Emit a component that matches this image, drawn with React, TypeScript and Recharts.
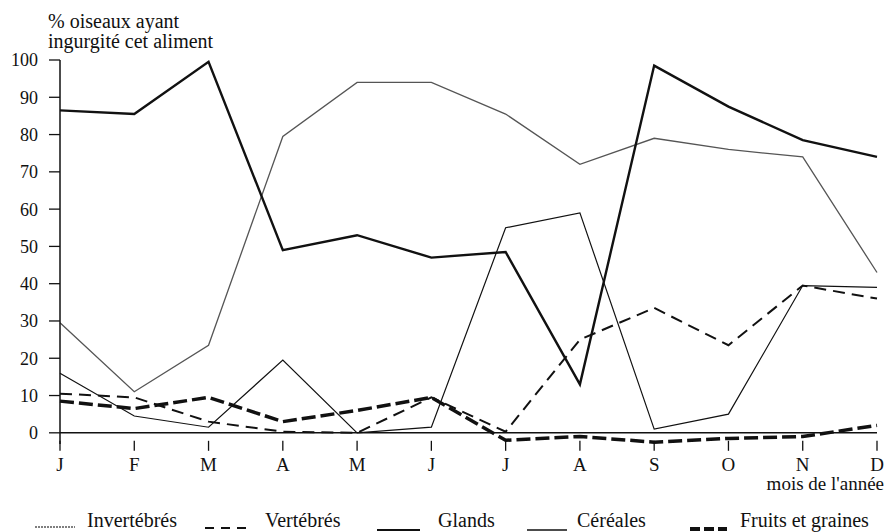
import React from 'react';
import { LineChart, Line, XAxis, YAxis, ReferenceLine, Legend, Label } from 'recharts';

// months of the year (French initials)
const months = ['J', 'F', 'M', 'A', 'M', 'J', 'J', 'A', 'S', 'O', 'N', 'D'];

// % of birds having eaten each food
const invertebres = [29.5, 11, 23.5, 79.5, 94, 94, 85.5, 72, 79, 76, 74, 43];
const vertebres = [10.5, 9.5, 3, 0.3, 0, 9.5, 0.3, 25, 33.5, 23.5, 39.5, 36];
const glands = [86.5, 85.5, 99.5, 49, 53, 47, 48.5, 13, 98.5, 87.5, 78.5, 74];
const cereales = [16, 4.5, 1.5, 19.5, 0, 1.5, 55, 59, 1, 5, 39.5, 39];
const fruits = [8.5, 6.5, 9.5, 3, 6, 9.5, -2, -1, -2.5, -1.5, -1, 2];

const yTicks = [0, 10, 20, 30, 40, 50, 60, 70, 80, 90, 100];

const data = months.map((month, i) => ({
  month,
  invertebres: invertebres[i],
  vertebres: vertebres[i],
  glands: glands[i],
  cereales: cereales[i],
  fruits: fruits[i]
}));

// named serif families did not resolve in the renderer, the generic one does
const FONT = 'serif';
const INK = '#111';

const W = 894;
const H = 532;
const PLOT_TOP = 60;
const PLOT_BOTTOM = 444;
const Y_MIN = -3;
const Y_MAX = 100;
// distance between the plot bottom and the 0 line, where the x axis is drawn
const ZERO_LIFT = ((PLOT_BOTTOM - PLOT_TOP) * (0 - Y_MIN)) / (Y_MAX - Y_MIN);

const SERIES = [
  { key: 'invertebres', name: 'Invertébrés', stroke: '#555', width: 1.3, dash: undefined, lx: [35, 75], ly: 25, ldash: '2 1', lw: 1.5, tx: 87 },
  { key: 'vertebres', name: 'Vertébrés', stroke: INK, width: 2, dash: '12 7', lx: [205, 250], ly: 26, ldash: '9 7', lw: 2, tx: 265 },
  { key: 'glands', name: 'Glands', stroke: INK, width: 2.4, dash: undefined, lx: [377, 420], ly: 28, ldash: undefined, lw: 2, tx: 438 },
  { key: 'cereales', name: 'Céréales', stroke: INK, width: 1.2, dash: undefined, lx: [527, 567], ly: 28, ldash: undefined, lw: 1.5, tx: 577 },
  { key: 'fruits', name: 'Fruits et graines', stroke: INK, width: 3.5, dash: '14 5', lx: [690, 727], ly: 27, ldash: '10 4', lw: 4, tx: 740 }
];

const textStyle = { fontFamily: FONT };

const MonthTick = ({ x, y, payload }: any) => {
  const y0 = y - ZERO_LIFT;
  return (
    <g>
      <line x1={x} y1={y0} x2={x} y2={y0 + 10} stroke={INK} strokeWidth={1.3} />
      <text x={x} y={y0 + 30} textAnchor="middle" style={textStyle} fontSize={19} fill={INK}>
        {payload.value}
      </text>
    </g>
  );
};

const LegendBox = () => (
  <svg width={W} height={30} style={{ display: 'block' }}>
    {SERIES.map((s) => (
      <g key={s.key}>
        <line x1={s.lx[0]} y1={s.ly} x2={s.lx[1]} y2={s.ly} stroke={s.stroke} strokeWidth={s.lw} strokeDasharray={s.ldash} />
        <text x={s.tx} y={25} style={textStyle} fontSize={20} fill={INK}>
          {s.name}
        </text>
      </g>
    ))}
  </svg>
);

export default function App() {
  return (
    <div style={{ position: 'absolute', left: 0, top: 0, background: '#fff', fontFamily: FONT }}>
      <LineChart width={W} height={H} data={data} margin={{ top: PLOT_TOP, right: 17, left: 0, bottom: 0 }}>
        <XAxis
          dataKey="month"
          axisLine={false}
          tickLine={false}
          interval={0}
          height={58}
          tick={<MonthTick />}
        >
          <Label
            content={() => (
              <text x={884} y={490} textAnchor="end" style={textStyle} fontSize={19} fill={INK}>
                mois de l'année
              </text>
            )}
          />
        </XAxis>
        <YAxis
          type="number"
          domain={[Y_MIN, Y_MAX]}
          ticks={yTicks}
          interval={0}
          width={60}
          tickSize={11}
          tickMargin={11}
          axisLine={{ stroke: INK, strokeWidth: 1.5 }}
          tickLine={{ stroke: INK, strokeWidth: 1.3 }}
          tick={{ fontFamily: FONT, fontSize: 18, fill: INK, style: textStyle }}
        >
          <Label
            content={() => (
              <text style={textStyle} fontSize={20} fill={INK}>
                <tspan x={48} y={28}>% oiseaux ayant</tspan>
                <tspan x={48} y={48}>ingurgité cet aliment</tspan>
              </text>
            )}
          />
        </YAxis>
        <ReferenceLine y={0} stroke={INK} strokeWidth={1.5} />
        <Legend verticalAlign="bottom" content={<LegendBox />} wrapperStyle={{ left: 0, bottom: 0, height: 30 }} />
        {SERIES.map((s) => (
          <Line
            key={s.key}
            type="linear"
            dataKey={s.key}
            name={s.name}
            stroke={s.stroke}
            strokeWidth={s.width}
            strokeDasharray={s.dash}
            dot={false}
            activeDot={false}
            isAnimationActive={false}
          />
        ))}
      </LineChart>
    </div>
  );
}
